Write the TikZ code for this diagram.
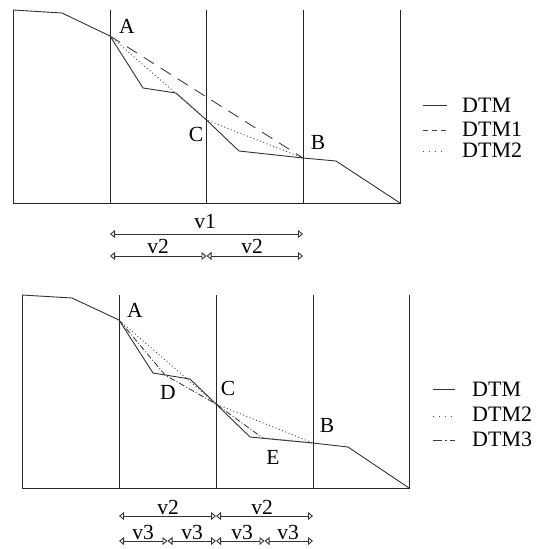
\documentclass[tikz,border=0pt]{standalone}
\usepackage{fontspec}
\setmainfont{Liberation Serif}
\usetikzlibrary{arrows.meta}
\tikzset{
  ln/.style={line width=0.9pt, draw=black!85},
  terrain/.style={line width=0.9pt, draw=black!80, line join=round},
  dtmone/.style={line width=0.9pt, draw=black!75, dash pattern=on 12pt off 8pt},
  dtmtwo/.style={line width=0.9pt, draw=black!70, dash pattern=on 1pt off 2.5pt},
  dtmthree/.style={line width=0.9pt, draw=black!75, dash pattern=on 6pt off 2pt on 1pt off 2pt},
  legone/.style={line width=0.9pt, draw=black!75, dash pattern=on 5pt off 4pt},
  legtwo/.style={line width=0.9pt, draw=black!70, dash pattern=on 1pt off 5pt},
  legthree/.style={line width=0.9pt, draw=black!75, dash pattern=on 9pt off 3pt on 1.5pt off 3pt},
  dim/.style={line width=0.9pt, draw=black!80, {Triangle[open,length=5pt,width=8pt]}-{Triangle[open,length=5pt,width=8pt]}},
  lab/.style={inner sep=0pt, font=\fontsize{21.5}{24}\selectfont},
  legtxt/.style={inner sep=0pt, anchor=west, font=\fontsize{22}{24}\selectfont}
}
\begin{document}
\begin{tikzpicture}[x=1pt,y=-1pt]
\useasboundingbox (0,0) rectangle (536,549);
% ---------- top diagram ----------
\coordinate (t0) at (13,10);
\coordinate (t1) at (62,13);
\coordinate (tA) at (110,36);
\coordinate (t3) at (143,88);
\coordinate (t4) at (176,93);
\coordinate (tC) at (206.5,120);
\coordinate (t6) at (239,151);
\coordinate (tB) at (303,158);
\coordinate (t8) at (336,161);
\coordinate (t9) at (400,203);
\draw[ln] (13,10) -- (13,203) -- (400,203) -- (400,10);
\draw[ln] (110,10) -- (110,203);
\draw[ln] (206.5,10) -- (206.5,203);
\draw[ln] (303,10) -- (303,203);
\draw[terrain] (t0) -- (t1) -- (tA) -- (t3) -- (t4) -- (tC) -- (t6) -- (tB) -- (t8) -- (t9);
\draw[dtmone] (tA) -- (tB);
\draw[dtmtwo] (tA) -- (tC) -- (tB);
\node[lab] (la1) at (127,26) {A};
\node[lab] (lc1) at (196,134) {C};
\node[lab] (lb1) at (318,142) {B};
% legend top
\coordinate (l1a) at (423,105); \coordinate (l1b) at (447,105);
\coordinate (l2a) at (423,130); \coordinate (l2b) at (447,130);
\coordinate (l3a) at (423,151); \coordinate (l3b) at (447,151);
\draw[terrain] (l1a) -- (l1b);
\draw[legone] (l2a) -- (l2b);
\draw[legtwo] (l3a) -- (l3b);
\node[legtxt] (g1) at (462,105) {DTM};
\node[legtxt] (g2) at (462,129) {DTM1};
\node[legtxt] (g3) at (462,150) {DTM2};
% dimensions top
\coordinate (d1a) at (110,234); \coordinate (d1b) at (303,234);
\coordinate (d2a) at (110,256); \coordinate (d2m) at (206.5,256); \coordinate (d2b) at (303,256);
\draw[dim] (d1a) -- (d1b);
\draw[dim] (d2a) -- (d2m);
\draw[dim] (d2m) -- (d2b);
\node[lab] (v1) at (205,222) {v1};
\node[lab] (v2a) at (158,246) {v2};
\node[lab] (v2b) at (252,246) {v2};
% ---------- bottom diagram ----------
\coordinate (b0) at (22,295);
\coordinate (b1) at (72,298);
\coordinate (bA) at (119,320);
\coordinate (b3) at (153,373);
\coordinate (b4) at (190,379);
\coordinate (bC) at (216,404);
\coordinate (b6) at (250,437);
\coordinate (bB) at (313,443);
\coordinate (b8) at (348,447);
\coordinate (b9) at (409,488);
\coordinate (bD) at (165,375);
\coordinate (bE) at (263,438.2);
\draw[ln] (22,295) -- (22,488) -- (409,488) -- (409,295);
\draw[ln] (119,295) -- (119,488);
\draw[ln] (216,295) -- (216,488);
\draw[ln] (313,295) -- (313,488);
\draw[terrain] (b0) -- (b1) -- (bA) -- (b3) -- (b4) -- (bC) -- (b6) -- (bB) -- (b8) -- (b9);
\draw[dtmtwo] (bA) -- (bC) -- (bB);
\draw[dtmthree] (bA) -- (bD) -- (bC) -- (bE) -- (bB);
\node[lab] (la2) at (135,310) {A};
\node[lab] (lc2) at (228,388) {C};
\node[lab] (ld2) at (168,392) {D};
\node[lab] (lb2) at (327,425) {B};
\node[lab] (le2) at (273,457) {E};
% legend bottom
\coordinate (m1a) at (433,389); \coordinate (m1b) at (455,389);
\coordinate (m2a) at (433,416); \coordinate (m2b) at (455,416);
\coordinate (m3a) at (433,440); \coordinate (m3b) at (455,440);
\draw[terrain] (m1a) -- (m1b);
\draw[legtwo] (m2a) -- (m2b);
\draw[legthree] (m3a) -- (m3b);
\node[legtxt] (h1) at (472,389) {DTM};
\node[legtxt] (h2) at (472,414) {DTM2};
\node[legtxt] (h3) at (472,439) {DTM3};
% dimensions bottom
\coordinate (e1a) at (119,516); \coordinate (e1m) at (216,516); \coordinate (e1b) at (313,516);
\coordinate (e2a) at (119,541); \coordinate (e2q) at (167.5,541); \coordinate (e2m) at (216,541);
\coordinate (e2r) at (264.5,541); \coordinate (e2b) at (313,541);
\draw[dim] (e1a) -- (e1m);
\draw[dim] (e1m) -- (e1b);
\draw[dim] (e2a) -- (e2q);
\draw[dim] (e2q) -- (e2m);
\draw[dim] (e2m) -- (e2r);
\draw[dim] (e2r) -- (e2b);
\node[lab] (w2a) at (168,507) {v2};
\node[lab] (w2b) at (262,507) {v2};
\node[lab] (w3a) at (143,532) {v3};
\node[lab] (w3b) at (192,532) {v3};
\node[lab] (w3c) at (242,532) {v3};
\node[lab] (w3d) at (288,532) {v3};
\end{tikzpicture}
\end{document}
